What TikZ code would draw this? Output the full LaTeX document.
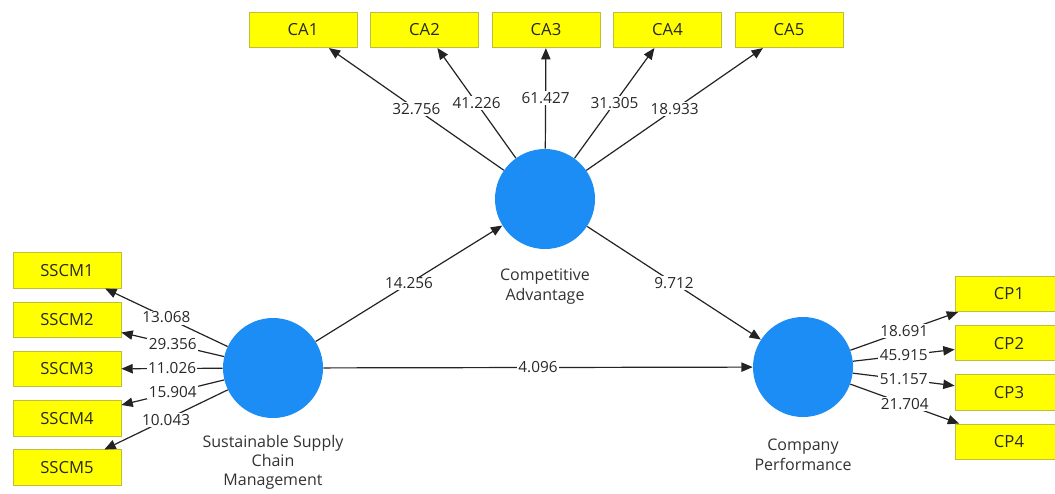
\documentclass[tikz,border=0pt]{standalone}
\usepackage{fontspec}
\setmainfont{Open Sans}
\usepackage{tikz}
\usetikzlibrary{arrows.meta}

\begin{document}
\begin{tikzpicture}[x=0.75pt,y=0.75pt,yscale=-1,xscale=1,
  indbox/.style={draw={rgb, 255:red, 190; green, 190; blue, 60}, fill={rgb, 255:red, 255; green, 255; blue, 0}, line width=0.6pt, minimum width=81pt, minimum height=26.5pt, inner sep=0pt, text={rgb, 255:red, 40; green, 40; blue, 40}, font=\fontsize{12.5}{14}\selectfont},
  latvar/.style={circle, fill={rgb, 255:red, 28; green, 141; blue, 245}, minimum size=75pt, inner sep=0pt},
  latname/.style={align=center, inner sep=0pt, text={rgb, 255:red, 50; green, 50; blue, 50}, font=\fontsize{12}{15}\selectfont},
  pth/.style={draw={rgb, 255:red, 35; green, 35; blue, 35}, line width=0.9pt, -{Triangle[length=8.5pt,width=7pt]}},
  tval/.style={midway, fill=white, inner sep=1pt, text={rgb, 255:red, 40; green, 40; blue, 40}, font=\fontsize{11.5}{13}\selectfont}
]
%set diagram left start at 0, and has height of 493
\useasboundingbox (0,0) rectangle (1055,493);
\clip (0,0) rectangle (1055,493);

%Latent variables
\node [latvar] (CA) at (545,199) {};
\node [latvar] (SSCM) at (273,368) {};
\node [latvar] (CP) at (803,367) {};

\node [latname] (CAname) at (545,287) {Competitive\\Advantage};
\node [latname, font=\fontsize{12}{14.2}\selectfont] (SSCMname) at (273,462) {Sustainable Supply\\Chain\\Management};
\node [latname] (CPname) at (803,455) {Company\\Performance};

%Indicators of Competitive Advantage
\node [indbox] (CA1) at (303,30) {CA1};
\node [indbox] (CA2) at (424.5,30) {CA2};
\node [indbox] (CA3) at (546,30) {CA3};
\node [indbox] (CA4) at (667.5,30) {CA4};
\node [indbox] (CA5) at (789,30) {CA5};

%Indicators of Sustainable Supply Chain Management
\node [indbox] (SSCM1) at (67,270.5) {SSCM1};
\node [indbox] (SSCM2) at (67,319.75) {SSCM2};
\node [indbox] (SSCM3) at (67,369) {SSCM3};
\node [indbox] (SSCM4) at (67,418.25) {SSCM4};
\node [indbox] (SSCM5) at (67,467.5) {SSCM5};

%Indicators of Company Performance
\node [indbox] (CP1) at (1009,294) {CP1};
\node [indbox] (CP2) at (1009,343.2) {CP2};
\node [indbox] (CP3) at (1009,392.4) {CP3};
\node [indbox] (CP4) at (1009,441.6) {CP4};

%Outer loadings
\draw [pth] (CA) -- (CA1) node [tval] (tCA1) {32.756};
\draw [pth] (CA) -- (CA2) node [tval] (tCA2) {41.226};
\draw [pth] (CA) -- (CA3) node [tval] (tCA3) {61.427};
\draw [pth] (CA) -- (CA4) node [tval] (tCA4) {31.305};
\draw [pth] (CA) -- (CA5) node [tval] (tCA5) {18.933};

\draw [pth] (SSCM) -- (SSCM1) node [tval] (tSSCM1) {13.068};
\draw [pth] (SSCM) -- (SSCM2) node [tval] (tSSCM2) {29.356};
\draw [pth] (SSCM) -- (SSCM3) node [tval] (tSSCM3) {11.026};
\draw [pth] (SSCM) -- (SSCM4) node [tval] (tSSCM4) {15.904};
\draw [pth] (SSCM) -- (SSCM5) node [tval] (tSSCM5) {10.043};

\draw [pth] (CP) -- (CP1) node [tval] (tCP1) {18.691};
\draw [pth] (CP) -- (CP2) node [tval] (tCP2) {45.915};
\draw [pth] (CP) -- (CP3) node [tval] (tCP3) {51.157};
\draw [pth] (CP) -- (CP4) node [tval] (tCP4) {21.704};

%Inner paths
\draw [pth] (SSCM) -- (CA) node [tval] (tSSCMCA) {14.256};
\draw [pth] (CA) -- (CP) node [tval] (tCACP) {9.712};
\draw [pth] (SSCM) -- (CP) node [tval] (tSSCMCP) {4.096};

\end{tikzpicture}
\end{document}
